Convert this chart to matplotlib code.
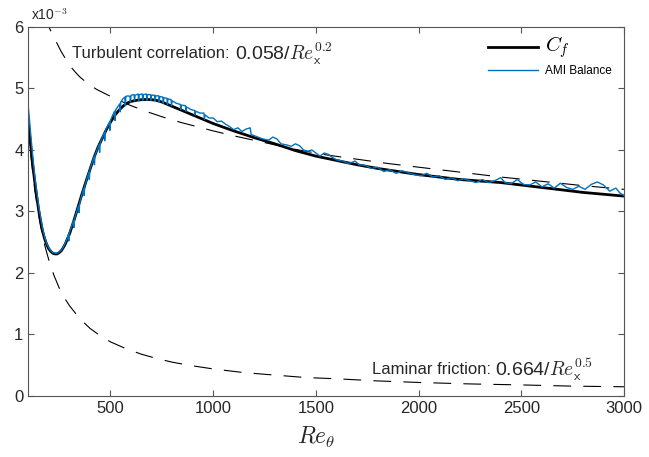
import numpy as np
import matplotlib.pyplot as plt

plt.rcParams['font.family'] = ['Liberation Sans', 'DejaVu Sans']
plt.rcParams['mathtext.fontset'] = 'cm'

# C_f (values in 1e-3)
cf_x = [100, 110, 120, 130, 140, 150, 160, 170, 180, 190, 200, 210, 220, 230, 240, 250,
        260, 270, 280, 290, 300, 320, 340, 360, 380, 400, 420, 440, 460, 480, 500, 520,
        540, 560, 580, 600, 630, 660, 690, 720, 750, 800, 850, 900, 950, 1000, 1100,
        1200, 1300, 1400, 1500, 1600, 1700, 1800, 1900, 2000, 2200, 2400, 2600, 2800,
        3000]
cf_y = [4.46, 4.12, 3.80, 3.52, 3.27, 3.03, 2.84, 2.67, 2.55, 2.46, 2.39, 2.35, 2.32,
        2.31, 2.31, 2.33, 2.36, 2.41, 2.47, 2.55, 2.63, 2.83, 3.05, 3.27, 3.48, 3.68,
        3.88, 4.05, 4.19, 4.33, 4.45, 4.56, 4.64, 4.71, 4.76, 4.79, 4.81, 4.82, 4.82,
        4.81, 4.78, 4.71, 4.64, 4.57, 4.50, 4.43, 4.31, 4.20, 4.10, 3.99, 3.90, 3.83,
        3.76, 3.70, 3.65, 3.60, 3.52, 3.47, 3.39, 3.31, 3.25]

# AMI balance
ami_x = [100, 105, 110, 120, 130, 140, 150, 160, 170, 180, 190, 200, 210, 220, 230, 240,
         250, 260, 270, 280, 290, 295, 297, 300, 310, 320, 322, 325, 335, 345, 347, 350,
         360, 370, 372, 375, 385, 395, 397, 400, 410, 420, 422, 425, 435, 445, 447, 450,
         460, 470, 472, 475, 485, 495, 497, 500, 510, 520, 522, 525, 535, 545, 547, 550,
         560, 570, 572, 575, 585, 595, 597, 600, 615, 617, 620, 635, 637, 640, 655, 657,
         660, 675, 677, 680, 695, 697, 700, 715, 717, 720, 735, 737, 740, 755, 757, 760,
         775, 777, 780, 795, 797, 800, 820, 840, 842, 845, 865, 867, 870, 890, 910, 912,
         915, 935, 955, 957, 960, 980, 1000, 1020, 1040, 1060, 1080, 1100, 1120, 1140,
         1160, 1180, 1185, 1210, 1240, 1270, 1290, 1310, 1330, 1360, 1380, 1400, 1420,
         1440, 1460, 1480, 1500, 1520, 1540, 1560, 1580, 1600, 1630, 1660, 1690, 1710,
         1740, 1770, 1800, 1830, 1860, 1890, 1920, 1950, 1980, 2010, 2040, 2070, 2100,
         2130, 2160, 2190, 2220, 2250, 2280, 2310, 2340, 2370, 2400, 2420, 2450, 2480,
         2510, 2540, 2570, 2600, 2630, 2660, 2690, 2720, 2750, 2780, 2810, 2840, 2870,
         2900, 2930, 2960, 2980, 3000]
ami_y = [4.70, 4.52, 4.32, 3.95, 3.62, 3.35, 3.10, 2.90, 2.72, 2.58, 2.48, 2.41, 2.36,
         2.33, 2.32, 2.32, 2.34, 2.37, 2.42, 2.49, 2.57, 2.62, 2.52, 2.66, 2.75, 2.85,
         2.74, 2.88, 2.99, 3.10, 2.98, 3.14, 3.26, 3.38, 3.26, 3.42, 3.53, 3.64, 3.52,
         3.68, 3.79, 3.89, 3.76, 3.92, 4.00, 4.09, 3.96, 4.12, 4.20, 4.28, 4.15, 4.31,
         4.38, 4.45, 4.32, 4.48, 4.56, 4.63, 4.48, 4.65, 4.70, 4.75, 4.62, 4.78, 4.83,
         4.86, 4.72, 4.87, 4.88, 4.87, 4.78, 4.89, 4.90, 4.80, 4.89, 4.91, 4.80, 4.90,
         4.91, 4.81, 4.90, 4.91, 4.81, 4.90, 4.90, 4.81, 4.89, 4.89, 4.80, 4.88, 4.88,
         4.78, 4.87, 4.86, 4.76, 4.85, 4.84, 4.74, 4.83, 4.82, 4.72, 4.80, 4.76, 4.74,
         4.66, 4.73, 4.72, 4.63, 4.70, 4.66, 4.64, 4.57, 4.63, 4.60, 4.60, 4.50, 4.57,
         4.52, 4.52, 4.46, 4.47, 4.42, 4.38, 4.33, 4.36, 4.30, 4.34, 4.36, 4.25, 4.22,
         4.18, 4.16, 4.21, 4.18, 4.10, 4.08, 4.06, 4.10, 4.07, 4.00, 3.98, 4.00, 3.95,
         3.90, 3.95, 3.93, 3.88, 3.84, 3.82, 3.78, 3.82, 3.76, 3.75, 3.70, 3.72, 3.65,
         3.68, 3.62, 3.66, 3.63, 3.60, 3.58, 3.62, 3.56, 3.58, 3.52, 3.55, 3.50, 3.53,
         3.50, 3.47, 3.52, 3.47, 3.50, 3.55, 3.47, 3.45, 3.52, 3.44, 3.43, 3.48, 3.40,
         3.45, 3.38, 3.46, 3.39, 3.36, 3.41, 3.36, 3.44, 3.48, 3.43, 3.33, 3.38, 3.30,
         3.26]

# turbulent correlation 0.058/Re_x^0.2
turb_x = [180, 190, 200, 215, 230, 245, 260, 280, 300, 325, 350, 375, 400, 430, 465, 520,
          600, 680, 760, 840, 920, 1000, 1100, 1250, 1400, 1550, 1700, 1850, 2000, 2200,
          2400, 2600, 2800, 3000]
turb_y = [6.20, 6.10, 6.00, 5.90, 5.80, 5.70, 5.60, 5.49, 5.38, 5.28, 5.19, 5.12, 5.06,
          4.99, 4.93, 4.84, 4.72, 4.62, 4.53, 4.45, 4.38, 4.31, 4.23, 4.12, 4.01, 3.92,
          3.85, 3.78, 3.72, 3.64, 3.56, 3.49, 3.42, 3.36]

# laminar friction 0.664/Re_x^0.5
lam_x = [100, 115, 130, 145, 160, 180, 200, 225, 250, 275, 300, 350, 400, 450, 500, 575,
         650, 725, 800, 900, 1000, 1150, 1300, 1450, 1600, 1800, 2000, 2250, 2500, 2750,
         3000]
lam_y = [4.41, 3.83, 3.39, 3.04, 2.76, 2.45, 2.21, 1.96, 1.76, 1.60, 1.47, 1.26, 1.10,
         0.98, 0.88, 0.77, 0.68, 0.61, 0.55, 0.49, 0.44, 0.38, 0.34, 0.30, 0.28, 0.245,
         0.22, 0.196, 0.18, 0.16, 0.15]

fig = plt.figure(figsize=(6.49, 4.57), dpi=100)
ax = fig.add_axes([0.0436, 0.1335, 0.918, 0.8075])

dash = (0, (16, 11))
ax.plot(turb_x, turb_y, color='black', lw=0.8, linestyle=dash)
ax.plot(lam_x, lam_y, color='black', lw=0.8, linestyle=dash)
ax.plot(cf_x, cf_y, color='black', lw=2.0, label='$C_f$')
ax.plot(ami_x, ami_y, color='#0072BD', lw=1.0, label='AMI Balance')

ax.set_xlim(100, 3000)
ax.set_ylim(0, 6)
ax.set_xticks([500, 1000, 1500, 2000, 2500, 3000])
ax.set_yticks([0, 1, 2, 3, 4, 5, 6])
ax.tick_params(direction='in', top=True, right=True, length=4, labelsize=12,
               color='#555555', labelcolor='#262626')
for s in ax.spines.values():
    s.set_color('#555555')
    s.set_linewidth(0.8)

ax.text(1500, -0.68, r'$Re_\theta$', fontsize=17, ha='center', va='center',
        color='#262626')
ax.text(112, 6.06, r'x10$^{\mathsf{-3}}$', fontsize=10, ha='left', va='bottom',
        color='#262626')

ax.text(313, 5.57, 'Turbulent correlation:', fontsize=12, ha='left', va='center',
        color='#262626')
ax.text(1108, 5.57, r'0.058/$Re_{\mathsf{x}}^{\mathsf{0.2}}$', fontsize=14,
        ha='left', va='center', color='#262626')
ax.text(1773, 0.43, 'Laminar friction:', fontsize=12, ha='left', va='center',
        color='#262626')
ax.text(2370, 0.43, r'0.664/$Re_{\mathsf{x}}^{\mathsf{0.5}}$', fontsize=14,
        ha='left', va='center', color='#262626')

leg = ax.legend(loc='upper right', bbox_to_anchor=(0.997, 1.01), frameon=False,
                handlelength=4.2, handletextpad=0.6, labelspacing=0.45, fontsize=8.5)
leg.get_texts()[0].set_fontsize(15)

fig.savefig('out.png', dpi=100)
